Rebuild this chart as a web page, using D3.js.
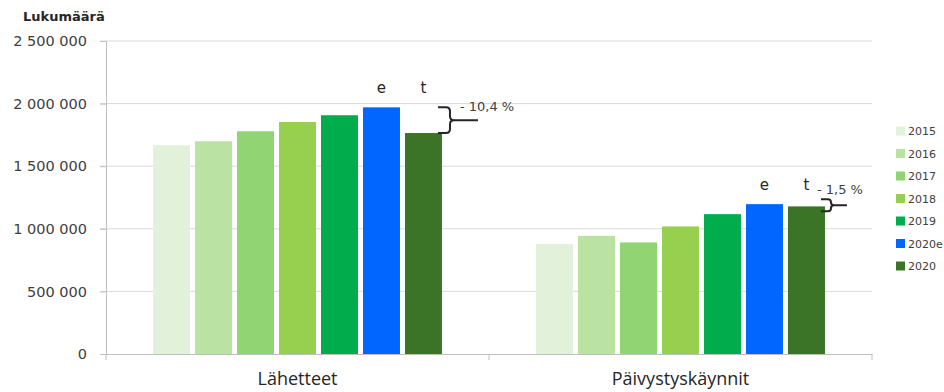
<!DOCTYPE html>
<html>
<head>
<meta charset="utf-8">
<script src="https://cdn.jsdelivr.net/npm/d3@7"></script>
<style>
  body { margin: 0; background: #fff; }
  svg { display: block; }
</style>
</head>
<body>
<svg id="chart" width="944" height="392"></svg>
<script>
// Lähetteet ja päivystyskäynnit vuosittain
const categories = ["Lähetteet", "Päivystyskäynnit"];
const years = ["2015", "2016", "2017", "2018", "2019", "2020e", "2020"];
const lahetteet = [1667000, 1699000, 1779000, 1853000, 1907000, 1970000, 1765000];
const paivystys = [878000, 944000, 891000, 1019000, 1117000, 1197000, 1179000];
const yearColors = ["#e2f2da", "#b9e2a3", "#90d474", "#96d04e", "#00ac4c", "#0066ff", "#3b7426"];
const yTicks = [0, 500000, 1000000, 1500000, 2000000, 2500000];
const changeLabels = ["- 10,4 %", "- 1,5 %"];
const barMarks = { "2020e": "e", "2020": "t" };

const seriesByCategory = [lahetteet, paivystys];

const svg = d3.select("#chart");
const margin = { left: 106, right: 72, top: 41, bottom: 38 };
const W = 944, H = 392;

const y = d3.scaleLinear().domain([0, 2500000]).range([H - margin.bottom, margin.top]);
const x0 = d3.scaleBand().domain(categories).range([margin.left, W - margin.right]).padding(0);
const x1 = d3.scaleBand().domain(years).range([0, x0.bandwidth()])
  .paddingInner(0.12).paddingOuter(1.12);
const color = d3.scaleOrdinal().domain(years).range(yearColors);

const fmt = v => d3.format(",")(v).replace(/,/g, " ");
const textColor = "#404040";

// Gridlines
svg.append("g").selectAll("line").data(yTicks.filter(d => d > 0)).join("line")
  .attr("x1", margin.left - 6).attr("x2", W - margin.right)
  .attr("y1", d => y(d)).attr("y2", d => y(d))
  .attr("stroke", "#d9d9d9").attr("stroke-width", 1);

// Y axis
const yAxis = svg.append("g").attr("transform", `translate(${margin.left},0)`)
  .call(d3.axisLeft(y).tickValues(yTicks).tickFormat(fmt).tickSize(6).tickPadding(13));
yAxis.select(".domain").attr("stroke", "#bfbfbf");
yAxis.selectAll(".tick line").attr("stroke", "#bfbfbf");
yAxis.selectAll("text").attr("fill", textColor)
  .style("font-family", "'DejaVu Sans', Verdana, sans-serif").style("font-size", "14.5px");

// X axis
const xAxis = svg.append("g").attr("transform", `translate(0,${y(0)})`)
  .call(d3.axisBottom(x0).tickSize(0).tickPadding(18));
xAxis.select(".domain").attr("stroke", "#bfbfbf");
xAxis.selectAll("text").attr("fill", "#262626")
  .style("font-family", "'Open Sans', sans-serif").style("font-size", "18px");
// Category separator ticks
svg.append("g").selectAll("line")
  .data([margin.left, x0(categories[1]), W - margin.right]).join("line")
  .attr("x1", d => d).attr("x2", d => d)
  .attr("y1", y(0)).attr("y2", y(0) + 6)
  .attr("stroke", "#bfbfbf");

// Bars
const groups = svg.append("g").selectAll("g").data(categories).join("g")
  .attr("transform", d => `translate(${x0(d)},0)`);
groups.selectAll("rect")
  .data((c, i) => years.map((yr, j) => ({ year: yr, value: seriesByCategory[i][j] })))
  .join("rect")
  .attr("x", d => x1(d.year))
  .attr("y", d => y(d.value))
  .attr("width", x1.bandwidth())
  .attr("height", d => y(0) - y(d.value))
  .attr("fill", d => color(d.year));

// "e" / "t" markers above the 2020 bars
groups.selectAll("text.mark")
  .data((c, i) => Object.keys(barMarks).map(yr => ({ year: yr, i })))
  .join("text")
  .attr("class", "mark")
  .attr("x", d => x1(d.year) + x1.bandwidth() / 2)
  .attr("y", d => y(seriesByCategory[d.i][years.indexOf("2020e")]) - 14)
  .attr("text-anchor", "middle")
  .attr("fill", "#262626")
  .style("font-family", "'DejaVu Sans', Verdana, sans-serif").style("font-size", "15px")
  .text(d => barMarks[d.year]);

// Change braces between 2020e and 2020
categories.forEach((c, i) => {
  const vals = seriesByCategory[i];
  let top = y(vals[years.indexOf("2020e")]);
  let bot = y(vals[years.indexOf("2020")]);
  const mid = (top + bot) / 2;
  // keep small braces readable
  if (bot - top < 12) { top = mid - 6; bot = mid + 6; }
  const xs = x0(c) + x1("2020") + x1.bandwidth() - 4;
  const w = i === 0 ? 12 : 10;
  const r = Math.min(4, (bot - top) / 4);
  const path = d3.path();
  path.moveTo(xs, top);
  path.lineTo(xs + w - r, top);
  path.quadraticCurveTo(xs + w, top, xs + w, top + r);
  path.lineTo(xs + w, mid - r);
  path.quadraticCurveTo(xs + w, mid, xs + w + r, mid);
  path.lineTo(xs + w + (i === 0 ? 28 : 16), mid);
  path.moveTo(xs + w + r, mid);
  path.quadraticCurveTo(xs + w, mid, xs + w, mid + r);
  path.lineTo(xs + w, bot - r);
  path.quadraticCurveTo(xs + w, bot, xs + w - r, bot);
  path.lineTo(xs, bot);
  svg.append("path").attr("d", path.toString())
    .attr("fill", "none").attr("stroke", "#262626").attr("stroke-width", 2);

  const lx = i === 0 ? xs + w + 10 : xs - 4;
  const ly = i === 0 ? top + 4 : top - 5;
  svg.append("text").attr("x", lx).attr("y", ly)
    .attr("fill", textColor)
    .style("font-family", "'DejaVu Sans', Verdana, sans-serif").style("font-size", "13px")
    .text(changeLabels[i]);
});

// Legend
const legend = svg.append("g").attr("transform", "translate(896,131)");
const li = legend.selectAll("g").data(years).join("g")
  .attr("transform", (d, i) => `translate(0,${i * 22.5})`);
li.append("rect").attr("x", 0).attr("y", -4.5).attr("width", 9).attr("height", 9)
  .attr("fill", d => color(d));
li.append("text").attr("x", 12).attr("y", 4)
  .attr("fill", textColor)
  .style("font-family", "'DejaVu Sans', Verdana, sans-serif").style("font-size", "11px")
  .text(d => d);

// Axis title
svg.append("text").attr("x", 23).attr("y", 21)
  .attr("fill", "#262626")
  .style("font-family", "'DejaVu Sans', Verdana, sans-serif").style("font-size", "13px")
  .style("font-weight", "bold")
  .text("Lukumäärä");
</script>
</body>
</html>
